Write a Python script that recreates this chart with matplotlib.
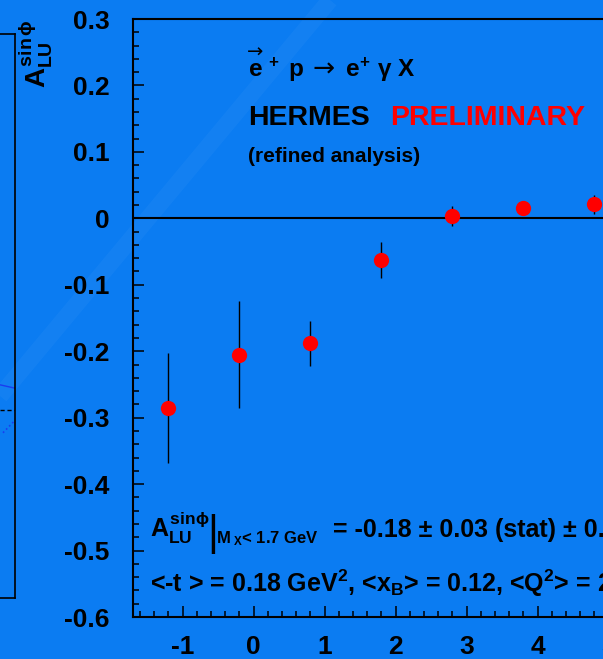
"""Beam-spin asymmetry A_LU^sin(phi) per bin, HERMES style panel."""
import matplotlib
matplotlib.use("Agg")
import matplotlib.pyplot as plt
from matplotlib.lines import Line2D
from matplotlib.ticker import MultipleLocator, FuncFormatter

plt.rcParams["font.family"] = ["Liberation Sans", "DejaVu Sans"]
plt.rcParams["font.weight"] = "bold"
plt.rcParams["axes.unicode_minus"] = False
plt.rcParams["mathtext.fontset"] = "custom"
plt.rcParams["mathtext.rm"] = "Liberation Sans:bold"
plt.rcParams["mathtext.it"] = "Liberation Sans:bold"
plt.rcParams["mathtext.bf"] = "Liberation Sans:bold"
plt.rcParams["mathtext.sf"] = "Liberation Sans:bold"

# asymmetry per bin
bin_x = [-1.2, -0.2, 0.8, 1.8, 2.8, 3.8, 4.8]
asym = [-0.285, -0.205, -0.188, -0.063, 0.004, 0.016, 0.021]
asym_err = [0.083, 0.081, 0.034, 0.027, 0.015, 0.008, 0.014]

x_range = (-1.7, 5.5)
y_range = (-0.6, 0.3)

# neighbouring panel (only its right edge is on the slide)
nb_dash_y = 0.333
nb_curve_x = [0.0, 1.0]
nb_curve_y = [0.378, 0.372]
nb_dot_x = [0.2, 1.0]
nb_dot_y = [0.293, 0.315]

BG = "#0b7cf2"
W, H = 603, 659


def px(x, y):
    """pixel position (from top-left) -> figure fraction"""
    return x / W, 1 - y / H


fig = plt.figure(figsize=(W / 100, H / 100), dpi=100, facecolor=BG)

# faint diagonal highlight across the slide background
x0, y0 = px(330, 0)
x1, y1 = px(0, 396)
fig.add_artist(Line2D([x0, x1], [y0, y1], transform=fig.transFigure,
                      color="white", alpha=0.035, linewidth=12,
                      solid_capstyle="butt", zorder=-1))

# neighbouring panel
nb = fig.add_axes([0.0, 61 / H, 15 / W, 564 / H])
nb.set_facecolor("none")
nb.set_xlim(0, 1)
nb.set_ylim(0, 1)
nb.set_xticks([])
nb.set_yticks([])
nb.spines["left"].set_visible(False)
for s in ("right", "top", "bottom"):
    nb.spines[s].set_linewidth(1.2)
nb.axhline(nb_dash_y, color="black", linestyle=(0, (3, 2)), linewidth=1)
nb.plot(nb_curve_x, nb_curve_y, color="#1a3cf0", linewidth=1)
nb.plot(nb_dot_x, nb_dot_y, color="#1a3cf0", linestyle=":", linewidth=1.2)

# main panel
ax = fig.add_axes([133 / W, 42 / H, 511 / W, 598 / H])
ax.set_facecolor("none")
ax.set_xlim(*x_range)
ax.set_ylim(*y_range)
for s in ("left", "bottom", "top", "right"):
    ax.spines[s].set_linewidth(1.5)

ax.axhline(0, color="black", linewidth=1.5, zorder=1)
ax.errorbar(bin_x, asym, yerr=asym_err, fmt="o", color="#ff0000",
            markersize=11, ecolor="black", elinewidth=1.0, capsize=0,
            markeredgewidth=0, zorder=3)

ax.xaxis.set_major_locator(MultipleLocator(1))
ax.xaxis.set_minor_locator(MultipleLocator(0.2))
ax.yaxis.set_major_locator(MultipleLocator(0.1))
ax.yaxis.set_minor_locator(MultipleLocator(0.02))
fmt = FuncFormatter(lambda v, _: f"{round(v, 2):g}")
ax.xaxis.set_major_formatter(fmt)
ax.yaxis.set_major_formatter(fmt)
ax.tick_params(which="major", direction="in", length=8, width=1.1,
               labelsize=19, colors="black")
ax.tick_params(which="minor", direction="in", length=4, width=1.1)
ax.tick_params(axis="y", which="major", pad=17)
ax.tick_params(axis="x", which="major", pad=13)

# axis title, top-aligned to the y axis end
tx, ty = px(36, 19)
fig.text(tx, ty, r"$A^{sin\,\phi}_{LU}$", rotation=90, ha="center", va="top",
         fontsize=20)

# reaction: polarised e+ p -> e+ gamma X
arrow_font = dict(family="DejaVu Sans", fontweight="normal", va="baseline")
tx, ty = px(247, 58)
fig.text(tx, ty, "→", fontsize=14, **arrow_font)
tx, ty = px(248, 77)
fig.text(tx, ty, r"$e^{\,+}\ p$", fontsize=17.5, va="baseline")
tx, ty = px(312, 77)
fig.text(tx, ty, "→", fontsize=19, **arrow_font)
tx, ty = px(345, 77)
fig.text(tx, ty, r"$e^{+}\ \gamma\ X$", fontsize=17.5, va="baseline")

tx, ty = px(248, 125)
fig.text(tx, ty, "HERMES", fontsize=20.5, va="baseline")
tx, ty = px(390, 125)
fig.text(tx, ty, "PRELIMINARY", fontsize=20.5, va="baseline", color="#ff0000")
tx, ty = px(248, 162)
fig.text(tx, ty, "(refined analysis)", fontsize=15, va="baseline")

# integrated result
tx, ty = px(150, 537)
fig.text(tx, ty, r"$A^{sin\phi}_{LU}$", fontsize=18, va="baseline")
tx, ty = px(207, 545)
fig.text(tx, ty, "|", fontsize=30, va="baseline", fontweight="normal")
tx, ty = px(216, 543)
fig.text(tx, ty, r"M$_{\ X}$< 1.7 GeV", fontsize=12, va="baseline")
tx, ty = px(333, 537)
fig.text(tx, ty, "= -0.18 ± 0.03 (stat) ± 0.02 (sys)", fontsize=18,
         va="baseline")

tx, ty = px(150, 592)
fig.text(tx, ty, r"<-t > = 0.18 GeV$^{2}$, <x$_{B}$> = 0.12, <Q$^{2}$> = 2.5 GeV$^{2}$",
         fontsize=18, va="baseline")

fig.savefig("out.png", dpi=100, facecolor=BG)
